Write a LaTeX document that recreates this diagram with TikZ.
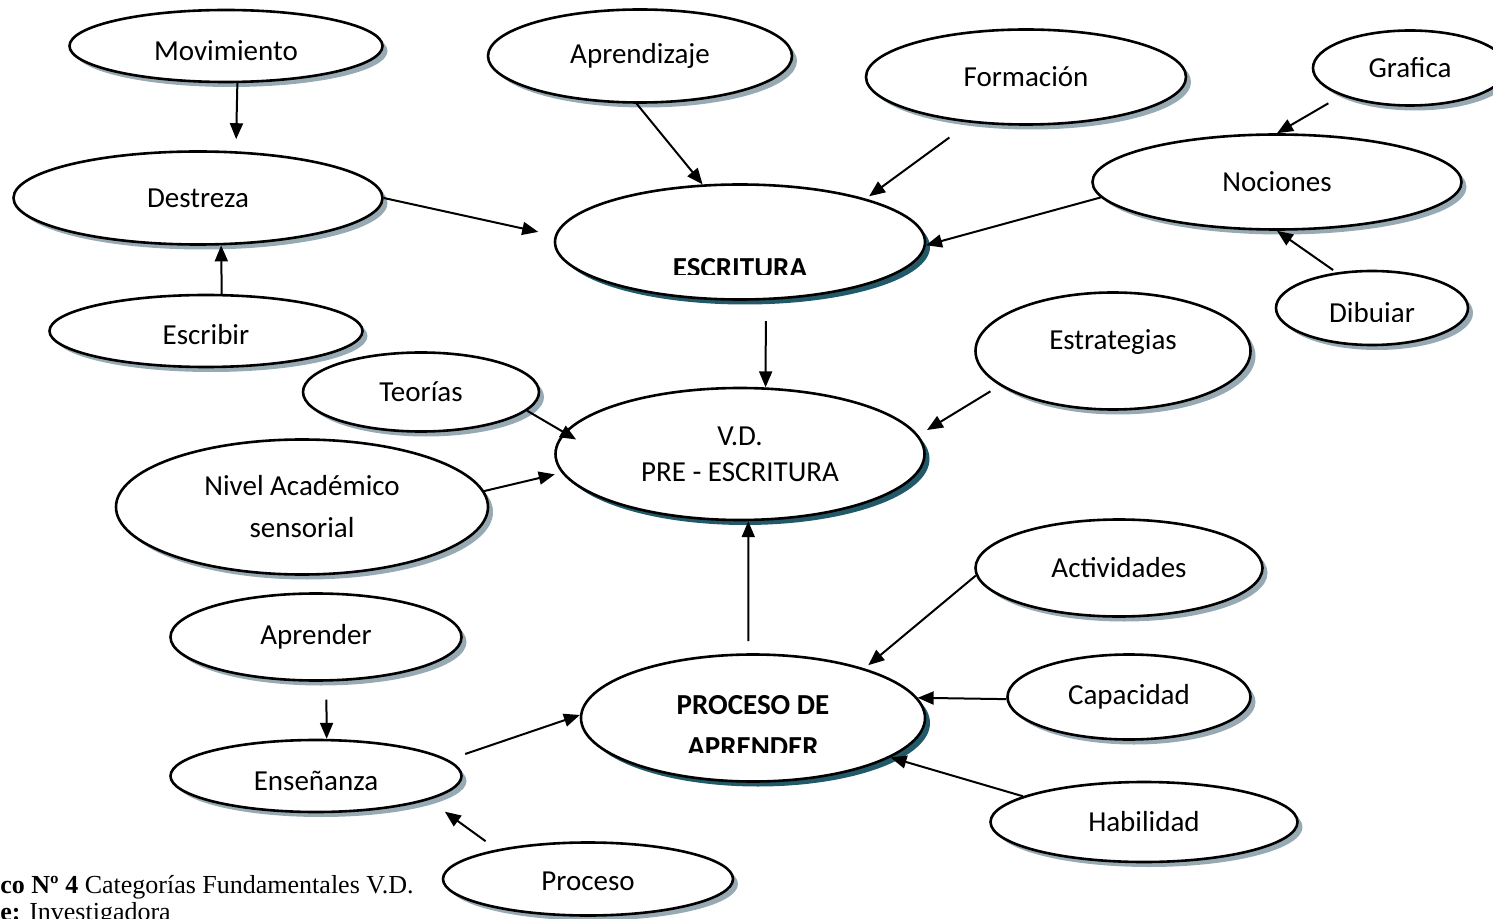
\documentclass[tikz,border=0pt]{standalone}
\usepackage{fontspec}
\setmainfont{Carlito}
\newfontfamily\capfont{Liberation Serif}
\usetikzlibrary{shapes.geometric,shadows,arrows.meta}
\definecolor{sombra}{RGB}{151,170,180}
\definecolor{sombraosc}{RGB}{33,89,104}
\tikzset{
  elipse/.style={ellipse, draw, line width=1.3pt, fill=white, inner sep=0pt, align=center,
    font=\fontsize{14.5}{21}\selectfont},
  burbuja/.style={elipse, drop shadow={shadow xshift=2.5pt, shadow yshift=-2.5pt, fill=sombra, opacity=1}},
  central/.style={elipse, drop shadow={shadow xshift=2.5pt, shadow yshift=-2.5pt, fill=sombraosc, opacity=1}},
  tam/.style 2 args={minimum width=#1pt, minimum height=#2pt},
  caja/.style 2 args={text height=#1pt, text depth=#2pt},
  rotulo/.style={inner sep=0pt, anchor=base, font=\fontsize{14.5}{21}\selectfont},
  flecha/.style={-{Triangle[length=8pt,width=6.5pt]}, line width=1pt}
}
\begin{document}
\begin{tikzpicture}[x=0.5pt, y=-0.5pt]
\useasboundingbox (0,0) rectangle (1493,919);
% fila de arriba
\node[burbuja, tam={156.5}{36}, caja={15}{0}] (mov) at (226,46) {Movimiento};
\node[burbuja, tam={152}{46.5}] (aprz) at (640,56) {Aprendizaje};
\node[burbuja, tam={160}{47.5}] (form) at (1026,77) {Formación};
\node[burbuja, tam={97}{37.5}] (graf) at (1410,68) {Grafica};
\node[burbuja, tam={184.5}{46.5}] (dest) at (198,198) {Destreza};
\node[central, tam={185}{57.5}] (escr) at (740,242) {};
\node[burbuja, tam={184.5}{47.5}] (noc) at (1277,182) {Nociones};
\node[burbuja, tam={96}{37}] (dib) at (1372,308) {};
\node[burbuja, tam={156.5}{36}, caja={14}{0}] (escb) at (206,331) {Escribir};
% centro
\node[burbuja, tam={137.5}{58.5}, caja={10}{11.6}] (estr) at (1113,351) {Estrategias};
\node[burbuja, tam={118}{39.5}] (teo) at (421,392) {Teorías};
\node[central, tam={184.5}{66}, font=\fontsize{14.5}{18}\selectfont] (vd) at (740,454) {V.D.\\PRE - ESCRITURA};
\node[burbuja, tam={186}{67.5}] (niv) at (302,507) {Nivel Académico\\sensorial};
% abajo
\node[burbuja, tam={143.5}{48.5}] (act) at (1119,568) {Actividades};
\node[burbuja, tam={145.5}{43.5}] (apr) at (316,637) {Aprender};
\node[central, tam={172}{63.5}] (proc) at (753,718) {};
\node[burbuja, tam={121.5}{42.5}] (cap) at (1129,697) {Capacidad};
\node[burbuja, tam={145.5}{36}, caja={14}{0}] (ens) at (316,776) {Enseñanza};
\node[burbuja, tam={153.5}{40}] (hab) at (1144,822) {Habilidad};
\node[burbuja, tam={145}{36.5}, caja={15}{3.6}] (pcs) at (588,879) {Proceso};
% textos cortados
\begin{scope}
  \clip (600,250) rectangle (880,275);
  \node[rotulo, font=\fontsize{14.5}{21}\selectfont\bfseries] (escrT) at (740,278) {ESCRITURA};
\end{scope}
\begin{scope}
  \clip (620,680) rectangle (890,752);
  \node[rotulo, font=\fontsize{14.5}{21}\selectfont\bfseries] (procA) at (753,714) {PROCESO DE};
  \node[rotulo, font=\fontsize{14.5}{21}\selectfont\bfseries] (procB) at (753,756) {APRENDER};
\end{scope}
\begin{scope}
  \clip (1300,290) rectangle (1450,322);
  \node[rotulo] (dibT) at (1372,323) {Dibujar};
\end{scope}
% flechas
\draw[flecha, shorten >=6pt] (mov.-73) -- (dest.51);
\draw[flecha] (escb.67) -- (dest.-64);
\draw[flecha, shorten >=8.5pt] (dest.0) -- (escr.178);
\draw[flecha] (aprz.-94) -- (escr.123);
\draw[flecha, shorten <=12.5pt, shorten >=2pt] (form.219) -- (escr.19);
\draw[flecha] (noc.185) -- (escr.-1);
\draw[flecha, shorten <=7.5pt] (graf.202) -- (noc.90);
\draw[flecha, shorten <=2pt] (dib.135) -- (noc.-90);
\draw[flecha, shorten <=10.5pt] (escr.-66) -- (vd.69);
\draw[flecha, shorten >=-7pt] (teo.-10) -- (vd.173);
\draw[flecha, shorten <=5.5pt, shorten >=5pt] (estr.197) -- (vd.6);
\draw[flecha, shorten >=3.5pt] (niv.5) -- (vd.186);
\draw[flecha, shorten <=6pt] (proc.94) -- (vd.-83);
\draw[flecha, shorten >=2.5pt] (act.183) -- (proc.24);
\draw[flecha] (cap.181) -- (proc.7);
\draw[flecha] (hab.168) -- (proc.-16);
\draw[flecha, shorten <=9pt] (apr.-77) -- (ens.74);
\draw[flecha, shorten <=9pt] (ens.7) -- (proc.179);
\draw[flecha, shorten <=7pt, shorten >=10pt] (pcs.162) -- (ens.-12);
% pie
\node[anchor=base west, inner sep=0pt, font=\capfont\fontsize{13}{15}\selectfont] (pie) at (0,893) {\textbf{co Nº 4} Categorías Fundamentales V.D.};
\node[anchor=base west, inner sep=0pt, font=\capfont\fontsize{13}{15}\selectfont] (fuente) at (0,920) {\textbf{e:} Investigadora};
\end{tikzpicture}
\end{document}
